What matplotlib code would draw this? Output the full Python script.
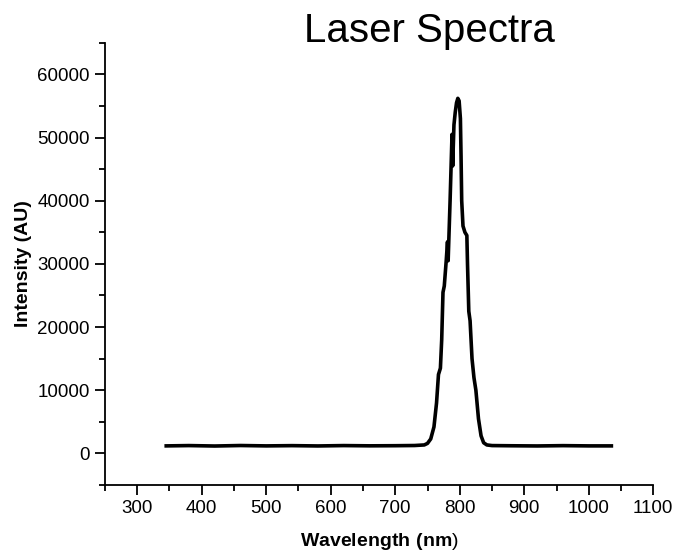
import matplotlib
matplotlib.use('Agg')
import matplotlib.pyplot as plt
from matplotlib.ticker import MultipleLocator

plt.rcParams['font.family'] = ['Liberation Sans', 'DejaVu Sans']
plt.rcParams['mathtext.fontset'] = 'custom'
plt.rcParams['mathtext.rm'] = 'Liberation Sans'
plt.rcParams['mathtext.bf'] = 'Liberation Sans:bold'

# spectrum (nm, counts)
wavelength = [345, 380, 420, 460, 500, 540, 580, 620, 660, 700, 730, 745,
              750, 755, 760, 764, 767, 770, 772, 774, 776, 779, 781, 782,
              785, 787, 788, 789, 791, 793, 795, 797, 799, 801, 802, 803,
              805, 808, 811, 812, 814, 816, 819, 822, 825, 829, 833, 837,
              842, 850, 880, 920, 960, 1000, 1035]
intensity = [1200, 1250, 1180, 1260, 1200, 1240, 1190, 1250, 1210, 1230, 1260, 1350,
             1600, 2300, 4200, 8000, 12500, 13500, 18000, 25500, 26500, 30500, 33500, 30500,
             40000, 47000, 50500, 45500, 52000, 54000, 55500, 56200, 55800, 53000, 47000, 40000,
             36000, 35000, 34500, 30000, 22500, 21000, 15000, 12000, 10000, 5500, 2800, 1700,
             1350, 1250, 1220, 1190, 1240, 1200, 1200]

x_major = [300, 400, 500, 600, 700, 800, 900, 1000, 1100]
y_major = [0, 10000, 20000, 30000, 40000, 50000, 60000]

fig = plt.figure(figsize=(6.77, 5.55), dpi=100)
ax = fig.add_axes([0.155, 0.126, 0.81, 0.797])

ax.plot(wavelength, intensity, color='black', linewidth=2.6, solid_joinstyle='round')

ax.set_xlim(250, 1100)
ax.set_ylim(-5000, 65000)
ax.set_xticks(x_major)
ax.set_yticks(y_major)
ax.xaxis.set_minor_locator(MultipleLocator(50))
ax.yaxis.set_minor_locator(MultipleLocator(5000))

for side in ['top', 'right']:
    ax.spines[side].set_visible(False)
for side in ['left', 'bottom']:
    ax.spines[side].set_linewidth(1.3)

ax.tick_params(which='major', direction='out', length=7, width=1.3, labelsize=13.5, pad=4)
ax.tick_params(which='minor', direction='out', length=4, width=1.3)

ax.set_xlabel(r'$\mathbf{Wavelength\ (nm}$)', fontsize=14, labelpad=10)
ax.set_ylabel('Intensity (AU)', fontsize=14, fontweight='bold', labelpad=4)
fig.text(0.635, 0.925, 'Laser Spectra', fontsize=29, ha='center', va='baseline')

fig.savefig('out.png', dpi=100)
